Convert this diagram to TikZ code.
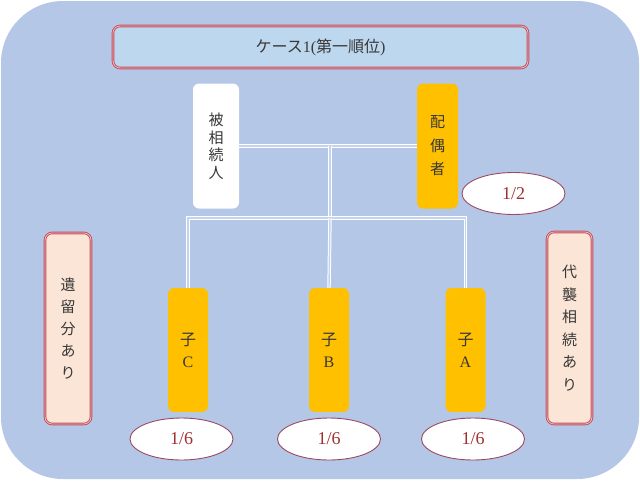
\documentclass[tikz,border=0pt]{standalone}
\usepackage{fontspec}
\setmainfont{Liberation Serif}
\newfontfamily\cjk{Noto Sans CJK JP}
\usetikzlibrary{shapes.geometric}
\definecolor{bgblue}{HTML}{B4C7E7}
\definecolor{titlefill}{HTML}{BDD7EE}
\definecolor{framered}{HTML}{C0505D}
\definecolor{framein}{HTML}{F4B8C0}
\definecolor{notefill}{HTML}{FBE5D6}
\definecolor{gold}{HTML}{FFC000}
\definecolor{txt}{HTML}{383838}
\definecolor{sharered}{HTML}{9B4A64}
\definecolor{sharetxt}{HTML}{A03030}
\definecolor{connfill}{HTML}{C4D4EE}
\tikzset{
  conn/.style={draw=white, line width=1pt, double=connfill, double distance=1.4pt},
  framed/.style={draw=framered, double=framein, line width=0.9pt, double distance=0.8pt, rounded corners=7pt, inner sep=0pt},
  personbox/.style={rounded corners=6pt, inner sep=0pt, align=center, text=txt},
  share/.style={ellipse, draw=sharered, line width=0.9pt, fill=white, minimum width=103pt, minimum height=42pt, inner sep=0pt, text=sharetxt, font=\fontsize{18}{20}\selectfont},
  heir/.style={personbox, fill=gold, minimum width=40pt, minimum height=124pt, font=\fontsize{16}{22}\selectfont},
}
\begin{document}
\begin{tikzpicture}[x=1pt, y=-1pt]
\useasboundingbox (0,0) rectangle (640,480);
\path[fill=bgblue, rounded corners=62pt] (1,1) rectangle (639,479);

% title
\node[framed, fill=titlefill, minimum width=415pt, minimum height=42pt, text=txt, font=\fontsize{16}{18}\selectfont] (title) at (320.5,47) {{\cjk ケース}1({\cjk 第一順位})};

% decedent and spouse
\node[personbox, fill=white, minimum width=46pt, minimum height=125pt, font=\cjk\fontsize{15}{17.5}\selectfont] (deced) at (216,146) {被\\相\\続\\人};
\node[personbox, fill=gold, minimum width=41pt, minimum height=125pt, font=\cjk\fontsize{15}{23.5}\selectfont] (spouse) at (437.5,146) {配\\偶\\者};

% children
\node[heir] (cC) at (188,350) {{\cjk 子}\\C};
\node[heir] (cB) at (329,350) {{\cjk 子}\\B};
\node[heir] (cA) at (465.5,350) {{\cjk 子}\\A};

% shares
\node[share] (sS) at (513.5,193.5) {1/2};
\node[share] (sC) at (181.5,439) {1/6};
\node[share] (sB) at (329,439) {1/6};
\node[share] (sA) at (473,439) {1/6};

% notes
\node[framed, fill=notefill, minimum width=46pt, minimum height=191pt, align=center, text=txt, font=\cjk\fontsize{15}{22}\selectfont] (noteL) at (68,328.5) {遺\\留\\分\\あ\\り};
\node[framed, fill=notefill, minimum width=45pt, minimum height=192pt, align=center, text=txt, font=\cjk\fontsize{15}{22.5}\selectfont] (noteR) at (569.5,328) {代\\襲\\相\\続\\あ\\り};

% connectors
\coordinate (j1) at (330,146);
\coordinate (j2) at (330,218);
\draw[conn] (deced.east) -- (spouse.west);
\draw[conn] (j1) -- (j2);
\draw[conn] (cC.north) |- (j2) -| (cA.north);
\draw[conn] (j2) -- (cB.north);
\end{tikzpicture}
\end{document}
